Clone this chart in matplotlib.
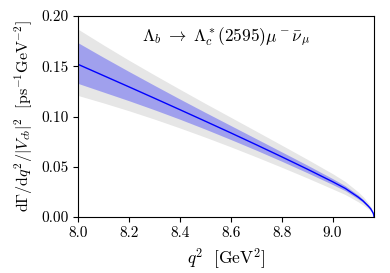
import numpy as np
import matplotlib
matplotlib.use("Agg")
import matplotlib.pyplot as plt

plt.rcParams['font.family'] = 'serif'
plt.rcParams['font.serif'] = ['cmr10']
plt.rcParams['mathtext.fontset'] = 'cm'
plt.rcParams['axes.formatter.use_mathtext'] = True

# q^2 grid (GeV^2) and differential rate
q2 = [8.0, 8.1, 8.2, 8.3, 8.4, 8.5, 8.6, 8.7, 8.8, 8.9, 9.0, 9.05, 9.1, 9.12, 9.14, 9.15, 9.16, 9.162, 9.163]
central = [0.152, 0.1408, 0.1296, 0.1183, 0.1069, 0.0954, 0.0838, 0.0720, 0.0600, 0.0478,
           0.0352, 0.0285, 0.0200, 0.0160, 0.0110, 0.0082, 0.0038, 0.0020, 0.0]

# inner (blue) and outer (grey) uncertainty bands
inner_hi = [0.1735, 0.1590, 0.1449, 0.1311, 0.1175, 0.1042, 0.0911, 0.0780, 0.0649, 0.0518,
            0.0383, 0.0311, 0.0220, 0.0176, 0.0122, 0.0091, 0.0042, 0.0022, 0.0]
inner_lo = [0.1330, 0.1244, 0.1158, 0.1068, 0.0974, 0.0875, 0.0772, 0.0666, 0.0556, 0.0442,
            0.0324, 0.0262, 0.0182, 0.0146, 0.0099, 0.0074, 0.0034, 0.0018, 0.0]
outer_hi = [0.1870, 0.1713, 0.1561, 0.1415, 0.1272, 0.1131, 0.0993, 0.0855, 0.0716, 0.0576,
            0.0432, 0.0353, 0.0252, 0.0203, 0.0141, 0.0106, 0.0050, 0.0026, 0.0]
outer_lo = [0.1210, 0.1136, 0.1058, 0.0975, 0.0887, 0.0795, 0.0699, 0.0599, 0.0496, 0.0390,
            0.0280, 0.0224, 0.0153, 0.0121, 0.0082, 0.0060, 0.0027, 0.0014, 0.0]

fig = plt.figure(figsize=(3.9, 2.73), dpi=100)
ax = fig.add_axes([0.2, 0.205, 0.759, 0.736])

ax.fill_between(q2, outer_lo, outer_hi, color='0.9', lw=0)
ax.fill_between(q2, inner_lo, inner_hi, color='blue', alpha=0.3, lw=0)
ax.plot(q2, central, color='blue', lw=1.0)

ax.text(0.5, 0.895, r'$\Lambda_b \;\to\; \Lambda_c^*(2595)\mu^-\bar{\nu}_\mu$',
        transform=ax.transAxes, ha='center', va='center', fontsize=12.5)

ax.set_xlim(8.0, 9.163)
ax.set_ylim(0, 0.2)
ax.set_xticks([8.0, 8.2, 8.4, 8.6, 8.8, 9.0])
ax.set_yticks([0.0, 0.05, 0.10, 0.15, 0.20])
ax.set_xticklabels(['8.0', '8.2', '8.4', '8.6', '8.8', '9.0'])
ax.set_yticklabels(['0.00', '0.05', '0.10', '0.15', '0.20'])
ax.tick_params(labelsize=11)
ax.set_xlabel(r'$q^2\ \ [\mathrm{GeV}^2]$', fontsize=12.5)
ax.set_ylabel(r'$\mathrm{d}\Gamma/\mathrm{d}q^2/|V_{cb}|^2\ \ [\mathrm{ps}^{-1}\mathrm{GeV}^{-2}]$', fontsize=11.5)

plt.savefig('out.png', dpi=100)
